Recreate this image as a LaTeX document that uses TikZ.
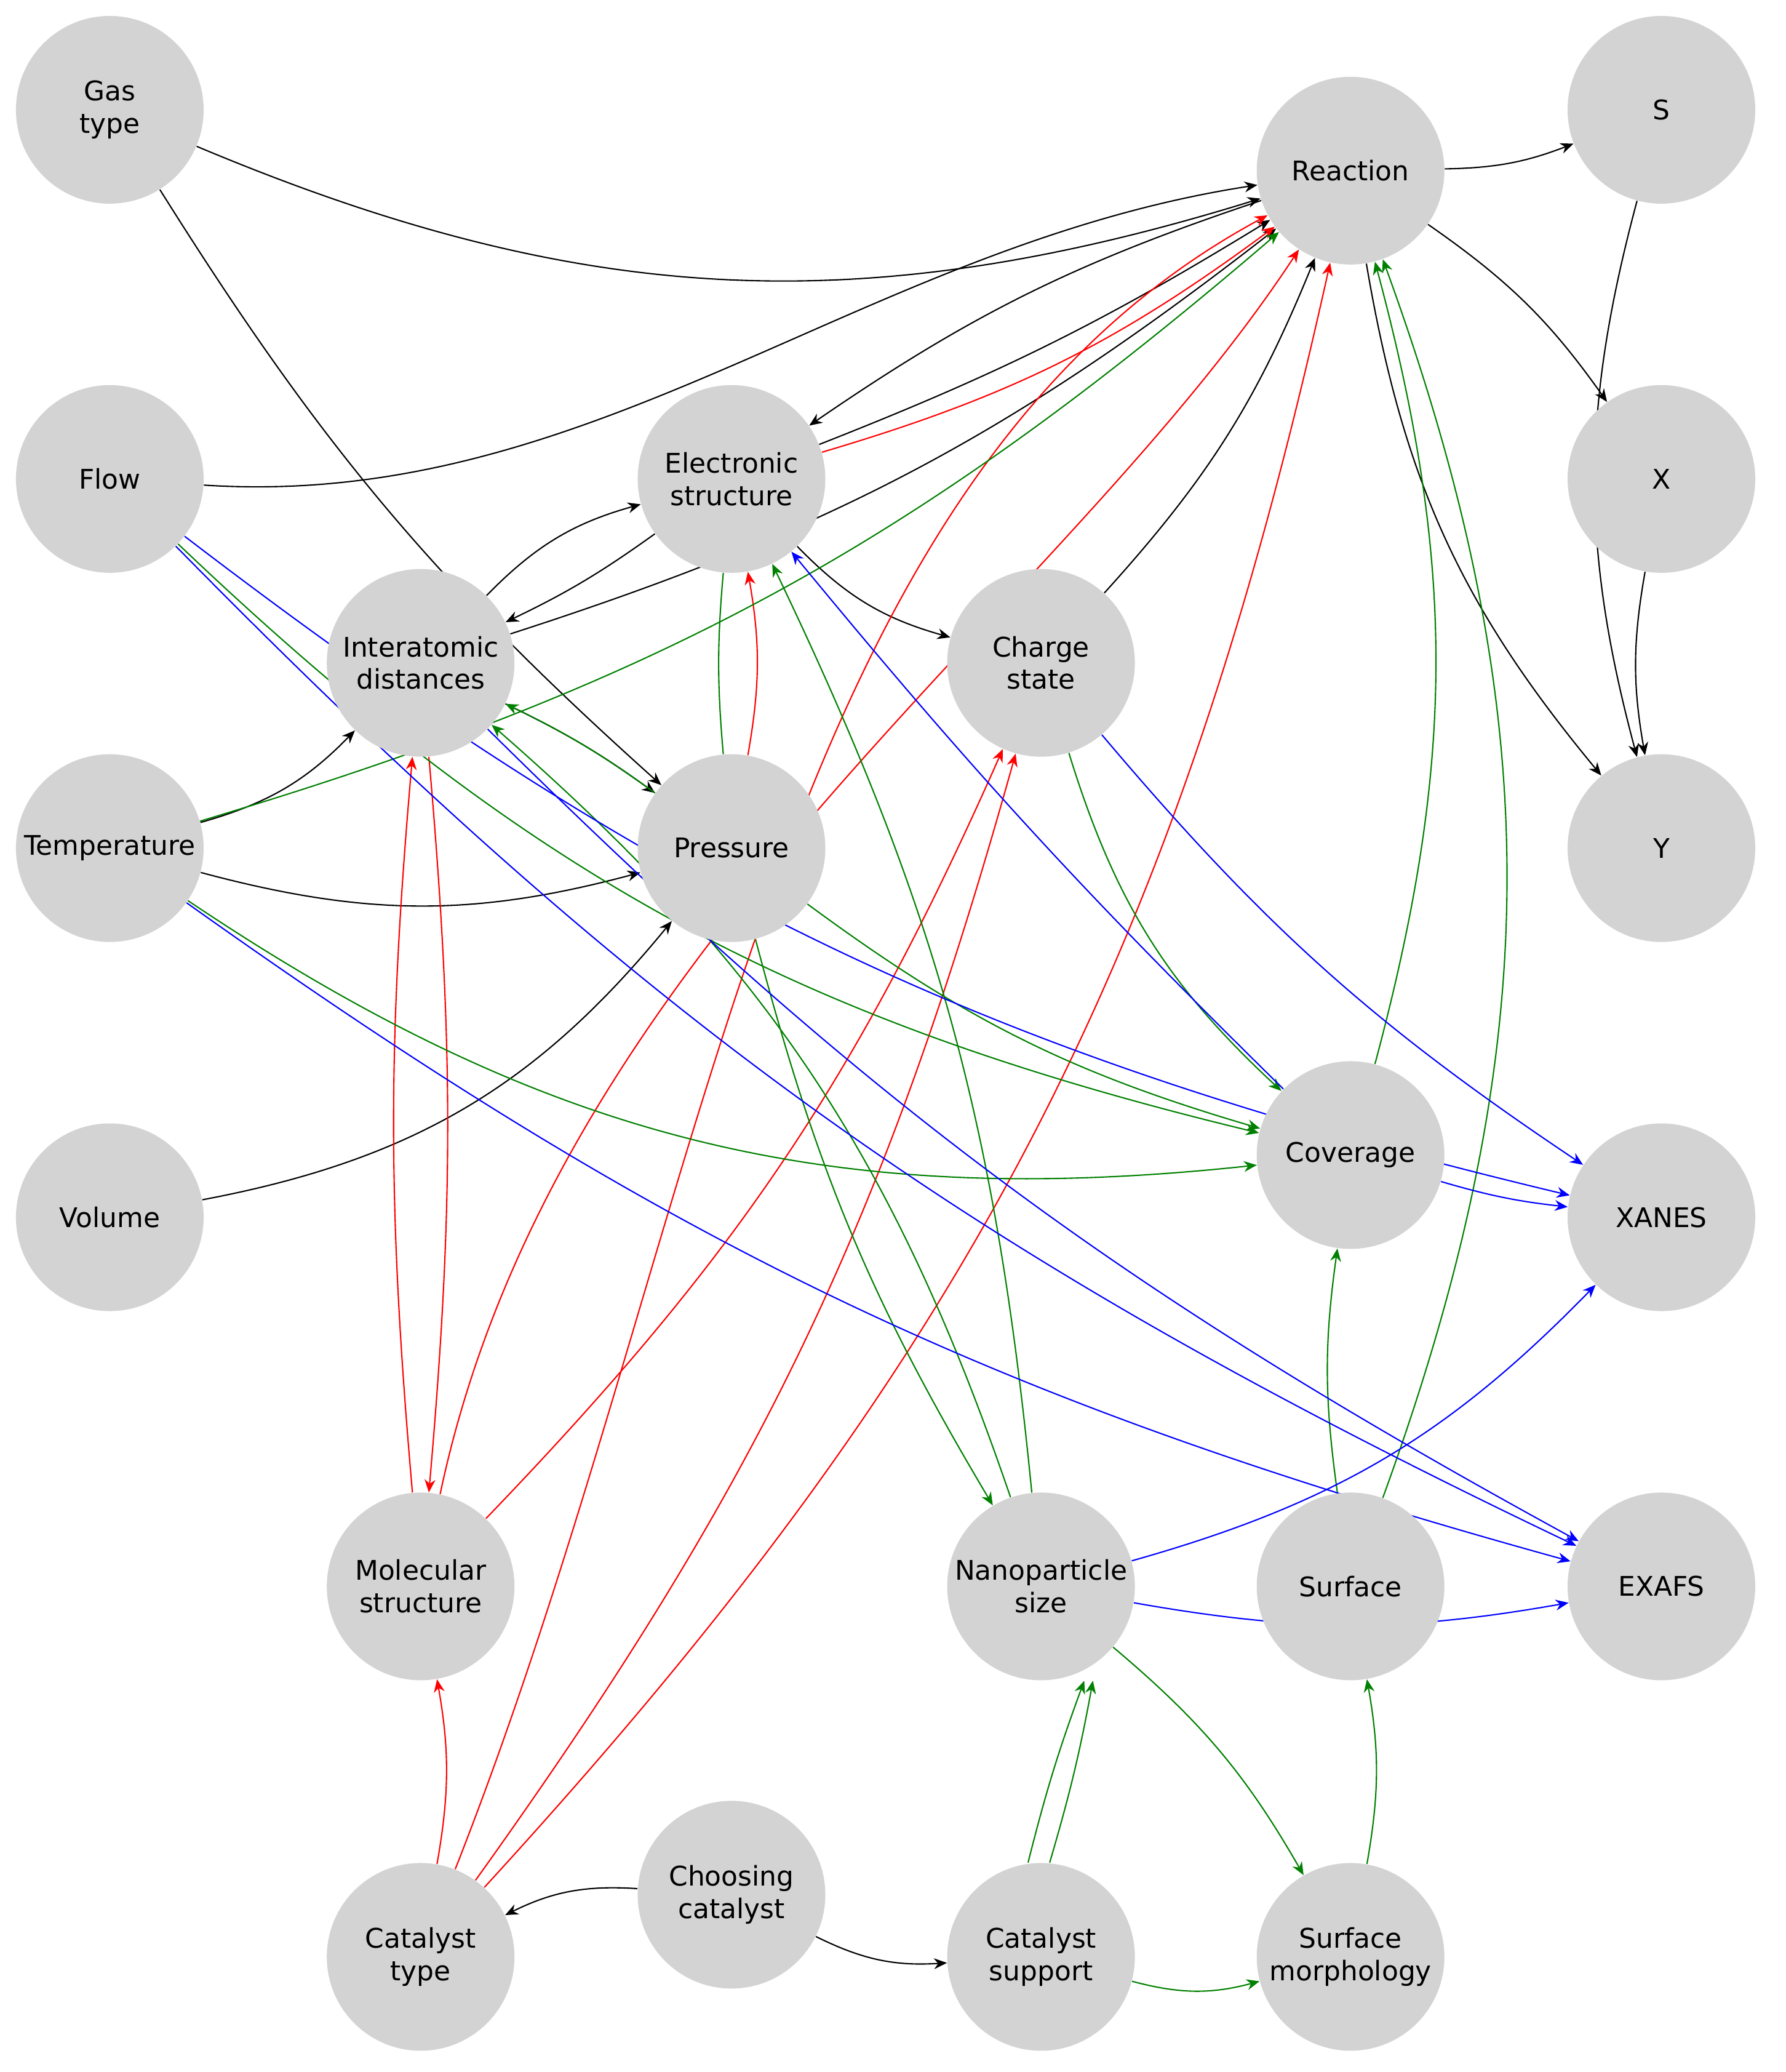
\documentclass[tikz,border=0pt]{standalone}
\usepackage{fontspec}
\setmainfont{DejaVu Sans}
\usetikzlibrary{arrows.meta}
\pgfdeclarelayer{bg}\pgfsetlayers{bg,main}
\definecolor{ndgray}{RGB}{211,211,211}
\definecolor{dgreen}{RGB}{0,128,0}
\begin{document}
\begin{tikzpicture}[x=0.021496cm,y=0.021496cm,
  n/.style={circle,fill=ndgray,minimum size=3.05cm,inner sep=0pt,align=center,font=\fontsize{12.5}{15}\selectfont},
  e/.style={line width=0.6pt,-{Stealth[length=6pt,width=5pt]}},
  k/.style={e,black},r/.style={e,red},g/.style={e,dgreen},b/.style={e,blue}]
\useasboundingbox (0,0) rectangle (1350,1566);
\node[n] (gas) at (83,1483) {Gas\\type};
\node[n] (flow) at (83,1204) {Flow};
\node[n] (temp) at (83,925) {Temperature};
\node[n] (vol) at (83,646) {Volume};
\node[n] (inter) at (318,1065) {Interatomic\\distances};
\node[n] (elec) at (553,1204) {Electronic\\structure};
\node[n] (pres) at (553,925) {Pressure};
\node[n] (charge) at (787,1065) {Charge\\state};
\node[n] (reac) at (1021,1437) {Reaction};
\node[n] (S) at (1256,1483) {S};
\node[n] (X) at (1256,1204) {X};
\node[n] (Y) at (1256,925) {Y};
\node[n] (cov) at (1021,693) {Coverage};
\node[n] (xanes) at (1256,646) {XANES};
\node[n] (exafs) at (1256,367) {EXAFS};
\node[n] (mol) at (318,367) {Molecular\\structure};
\node[n] (nano) at (787,367) {Nanoparticle\\size};
\node[n] (surf) at (1021,367) {Surface};
\node[n] (ctype) at (318,87) {Catalyst\\type};
\node[n] (choose) at (553,134) {Choosing\\catalyst};
\node[n] (csup) at (787,87) {Catalyst\\support};
\node[n] (smorph) at (1021,87) {Surface\\morphology};
\begin{pgfonlayer}{bg}
% black
\draw[k] (gas) to[bend right=20] (reac);
\draw[k] (gas) to[bend right=8] (pres);
\draw[k] (flow) .. controls (450,1180) and (650,1380) .. (reac);
\draw[k] (reac) to[bend right=8] (elec);
\draw[k] (elec) to[bend right=5] (reac);
\draw[k] (elec) to[bend left=5] (inter);
\draw[k] (inter) to[bend left=15] (elec);
\draw[k] (inter) to[bend right=10] (reac);
\draw[k] (elec) to[bend right=15] (charge);
\draw[k] (charge) to[bend right=10] (reac);
\draw[k] (temp) to[bend right=15] (inter);
\draw[k] (temp) to[bend right=15] (pres);
\draw[k] (vol) to[bend right=20] (pres);
\draw[k] (inter) to[bend left=5] (pres);
\draw[k] (reac) to[bend right=10] (S);
\draw[k] (reac) to[bend left=10] (X);
\draw[k] (reac) to[bend right=15] (Y);
\draw[k] (S) to[bend right=15] (Y);
\draw[k] (X) to[bend right=10] (Y);
\draw[k] (choose) to[bend right=15] (ctype);
\draw[k] (choose) to[bend right=15] (csup);
% red
\draw[r] (elec) to[bend right=10] (reac);
\draw[r] (ctype) .. controls (540,650) and (580,1200) .. (reac);
\draw[r] (ctype) to[bend right=15] (reac);
\draw[r] (ctype) to[bend right=10] (charge);
\draw[r] (mol) to[bend right=10] (charge);
\draw[r] (ctype) to[bend right=10] (mol);
\draw[r] (inter) to[bend left=5] (mol);
\draw[r] (mol) to[bend left=5] (inter);
\draw[r] (mol) .. controls (420,850) and (800,1100) .. (reac);
\draw[r] (pres) to[bend right=10] (elec);
% green
\draw[g] (temp) to[bend right=12] (reac);
\draw[g] (temp) to[bend right=20] (cov);
\draw[g] (flow) to[bend right=15] (cov);
\draw[g] (pres) to[bend right=5] (inter);
\draw[g] (nano) to[bend right=15] (inter);
\draw[g] (pres) to[bend right=8] (nano);
\draw[dgreen,line width=0.6pt] (elec) to[bend right=5] (pres);
\draw[g] (nano) to[bend right=10] (elec);
\draw[g] (pres) to[bend right=10] (cov);
\draw[g] (charge) to[bend right=15] (cov);
\draw[g] (cov) to[bend right=15] (reac);
\draw[g] (surf) to[bend right=20] (reac);
\draw[g] (surf) to[bend left=8] (cov);
\draw[g] ([xshift=-6]csup.north) to[bend left=3] ([xshift=20]nano.south);
\draw[g] ([xshift=4]csup.north) to[bend right=3] ([xshift=24]nano.south);
\draw[g] (nano) to[bend left=10] (smorph);
\draw[g] (csup) to[bend right=15] (smorph);
\draw[g] (smorph) to[bend right=10] (surf);
% blue
\draw[b] (flow) to[bend right=12] (xanes);
\draw[b] (cov) to[bend left=3] (elec);
\draw[b] (charge) to[bend right=8] (xanes);
\draw[b] (cov) to[bend right=5] (xanes);
\draw[b] (temp) to[bend right=10] (exafs);
\draw[b] (inter) to[bend right=8] (exafs);
\draw[b] (flow) to[bend right=10] (exafs);
\draw[b] (nano) to[bend right=10] (exafs);
\draw[b] (nano) to[bend right=15] (xanes);
\end{pgfonlayer}
\end{tikzpicture}
\end{document}
